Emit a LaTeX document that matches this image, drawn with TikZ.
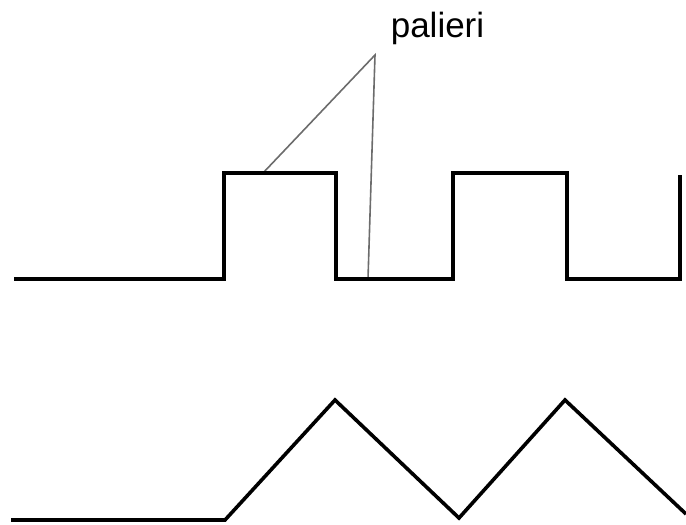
\documentclass[tikz,border=0pt]{standalone}
\usepackage{fontspec}
\setmainfont{Liberation Sans}
\begin{document}
\begin{tikzpicture}[x=1pt,y=-1pt,
  wave/.style={line width=3.6pt,line join=miter,black},
  leader/.style={line width=1.6pt,gray!85!black}]
\useasboundingbox (0,0) rectangle (686,525);
\node[anchor=base,font=\fontsize{35}{40}\selectfont,inner sep=0pt] (lbl) at (437.5,37) {palieri};
\coordinate (apex) at (375,55);
\coordinate (p1) at (263,173);
\coordinate (p2) at (368,279);
\draw[leader] (p1) -- (apex) -- (p2);
\draw[wave] (14,279) -- (224,279) -- (224,173) -- (336,173) -- (336,279) -- (453,279) -- (453,173) -- (567,173) -- (567,279) -- (680,279) -- (680,175);
\draw[wave] (11,520) -- (225,520) -- (335,400) -- (459,518) -- (565,400) -- (686,514);
\end{tikzpicture}
\end{document}
